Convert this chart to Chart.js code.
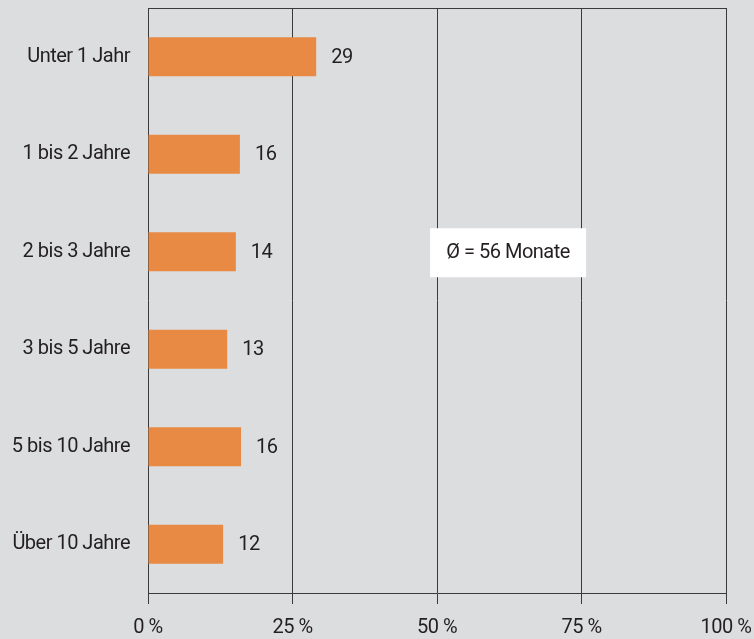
<!DOCTYPE html>
<html>
<head>
<meta charset="utf-8">
<script src="https://cdn.jsdelivr.net/npm/chart.js@4"></script>
<style>
html,body{margin:0;padding:0;background:#dcdddf;}
#wrap{width:754px;height:639px;position:relative;}
</style>
</head>
<body>
<div id="wrap"><canvas id="c" width="754" height="639"></canvas></div>
<script>
const categories = ["Unter 1 Jahr", "1 bis 2 Jahre", "2 bis 3 Jahre", "3 bis 5 Jahre", "5 bis 10 Jahre", "Über 10 Jahre"];
const barValues = [29.1, 15.9, 15.2, 13.7, 16.1, 13.0];
const valueLabels = ["29", "16", "14", "13", "16", "12"];
const xTicks = [0, 25, 50, 75, 100];
const noteText = "Ø = 56 Monate";
const noteX = 62.3;
const noteCategory = "2 bis 3 Jahre";

const FONT = "Roboto";
const FS = 20;
const TXT = "#231f20";
const GRID = "#3a3a3a";
const LS = "-0.5px";

function zeroPad(s){ s.paddingLeft = 0; s.paddingRight = 0; s.paddingTop = 0; s.paddingBottom = 0; }

const setLS = { id: "ls",
  beforeUpdate(c){ c.ctx.letterSpacing = LS; },
  beforeLayout(c){ c.ctx.letterSpacing = LS; },
  beforeDraw(c){ c.ctx.letterSpacing = LS; }
};

const extras = { id: "extras",
  afterDatasetsDraw(chart){
    const ctx = chart.ctx;
    const meta = chart.getDatasetMeta(0);
    ctx.save();
    ctx.letterSpacing = LS;
    ctx.font = FS + "px " + FONT;
    ctx.fillStyle = TXT;
    ctx.textAlign = "left";
    ctx.textBaseline = "middle";
    meta.data.forEach((bar, i) => {
      ctx.fillText(valueLabels[i], bar.x + 15, bar.y + 1);
    });
    const xs = chart.scales.x, ys = chart.scales.y;
    const cx = xs.getPixelForValue(noteX);
    const cy = ys.getPixelForValue(categories.indexOf(noteCategory)) + 1;
    const w = 156, h = 49;
    ctx.fillStyle = "#ffffff";
    ctx.fillRect(cx - w/2, cy - h/2, w, h);
    ctx.fillStyle = TXT;
    ctx.textAlign = "center";
    ctx.fillText(noteText, cx, cy);
    ctx.restore();
  }
};

new Chart(document.getElementById("c"), {
  type: "bar",
  data: {
    labels: categories,
    datasets: [{
      data: barValues,
      backgroundColor: "#e98a44",
      borderWidth: 0,
      barPercentage: 0.4,
      categoryPercentage: 1.0
    }]
  },
  options: {
    indexAxis: "y",
    responsive: false,
    animation: false,
    events: [],
    layout: { padding: { top: 8, right: 28, left: 0, bottom: 0 } },
    plugins: { legend: { display: false }, tooltip: { enabled: false } },
    scales: {
      x: {
        type: "linear",
        position: "bottom",
        min: 0, max: 100,
        afterBuildTicks(s){ s.ticks = xTicks.map(v => ({ value: v })); },
        afterFit(s){ s.height = 46; zeroPad(s); },
        ticks: {
          font: { family: FONT, size: FS },
          color: TXT,
          padding: 12,
          maxRotation: 0,
          callback: v => v + " %"
        },
        grid: { color: GRID, lineWidth: 1, tickLength: 11, drawTicks: true },
        border: { display: true, color: GRID, width: 1 }
      },
      xTop: {
        type: "linear",
        position: "top",
        min: 0, max: 100,
        afterFit(s){ s.height = 0; zeroPad(s); },
        ticks: { display: false },
        grid: { display: false, drawTicks: false },
        border: { display: true, color: GRID, width: 1 }
      },
      y: {
        type: "category",
        afterFit(s){ s.width = 148; zeroPad(s); },
        ticks: {
          font: { family: FONT, size: FS },
          color: TXT,
          padding: 18
        },
        grid: { display: false, drawTicks: false },
        border: { display: false }
      }
    }
  },
  plugins: [setLS, extras]
});
</script>
</body>
</html>
